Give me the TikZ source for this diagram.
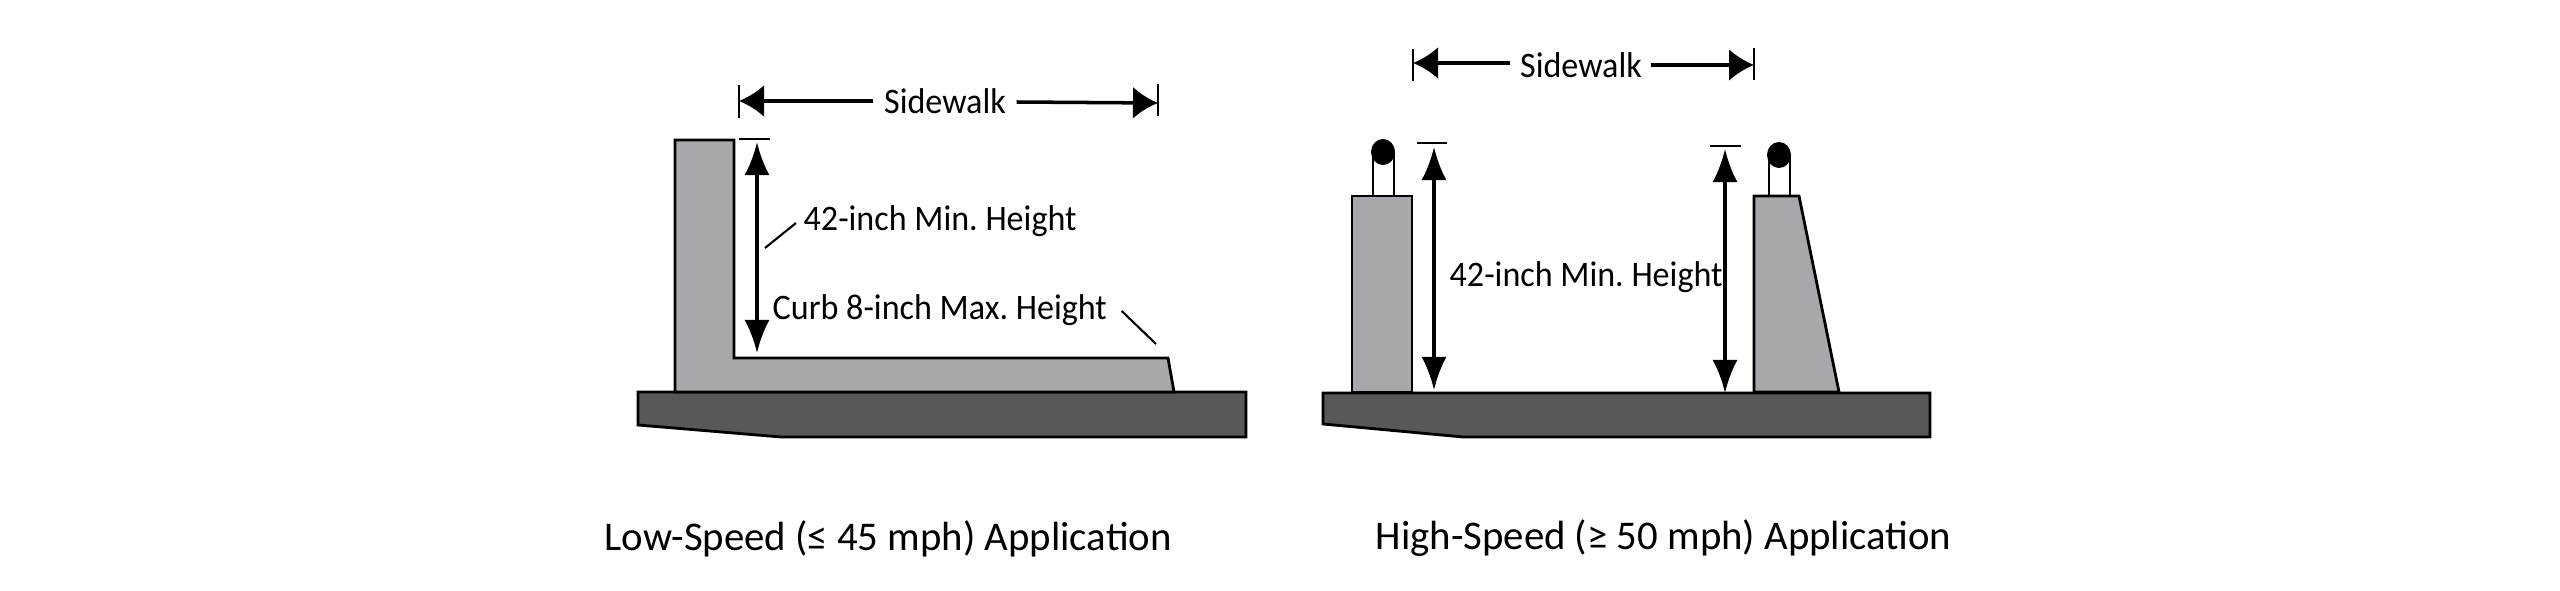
\documentclass[tikz,border=0pt]{standalone}
\usepackage{fontspec}
\setmainfont{Carlito}
\newfontfamily\dimfont[FakeStretch=0.95]{Carlito}
\usetikzlibrary{arrows.meta}

\definecolor{slabgray}{HTML}{58585A}
\definecolor{curbgray}{HTML}{A7A8AB}

\tikzset{
    slab/.style={draw=black,fill=slabgray,line width=0.8pt},
    curb/.style={draw=black,fill=curbgray,line width=0.8pt},
    tick/.style={draw=black,line width=0.6pt},
    leader/.style={draw=black,line width=0.6pt},
    walkdim/.style={draw=black,line width=1pt,-{Latex[length=2.5mm,width=3.2mm]}},
    heightdim/.style={draw=black,line width=1pt,{Latex[length=3.3mm,width=2.5mm]}-{Latex[length=3.3mm,width=2.5mm]}},
    dimlabel/.style={font=\dimfont\fontsize{10.2}{12}\selectfont\frenchspacing,inner sep=0pt},
    caption/.style={font=\fontsize{11.6}{14}\selectfont,inner sep=0pt}
}

\begin{document}
\begin{tikzpicture}[x=0.01cm,y=-0.01cm]
\useasboundingbox (0,0) rectangle (2560,591);

% Low-speed: slab and curb
\draw[slab] (638,392) -- (1246,392) -- (1246,437) -- (781,437) -- (638,425) -- cycle;
\draw[curb] (675,392) -- (675,140) -- (734,140) -- (734,358) -- (1168,358) -- (1174,392) -- cycle;

% Low-speed: sidewalk dimension
\node[dimlabel] (walkA) at (945,101) {Sidewalk};
\coordinate (walkAl) at (739,101);
\coordinate (walkAr) at (1158,103);
\draw[walkdim] (walkA.west) ++(-10,0) -- (walkAl);
\draw[walkdim] (walkA.east) ++(10,1) -- (walkAr);
\draw[tick] (739,85) -- (739,118);
\draw[tick] (1158,84) -- (1158,116);

% Low-speed: height dimension
\coordinate (topA) at (757,142);
\coordinate (botA) at (757,353);
\draw[tick] (739,139) -- (770,139);
\draw[heightdim] (topA) -- (botA);

% Low-speed: labels and leaders
\node[dimlabel,anchor=west] (minA) at (803,221) {42-inch Min. Height};
\node[dimlabel,anchor=west] (maxA) at (772,310) {Curb 8-inch Max. Height};
\coordinate (minAend) at (765,248);
\coordinate (maxAend) at (1156,344);
\draw[leader] (minA.west) ++(-7,2) -- (minAend);
\draw[leader] (maxA.east) ++(14,1) -- (maxAend);

% High-speed: slab
\draw[slab] (1323,393) -- (1930,393) -- (1930,437) -- (1463,437) -- (1323,424) -- cycle;

% High-speed: rails
\draw[line width=0.8pt,fill=white] (1373,196) rectangle (1394,152);
\draw[line width=0.8pt,fill=white] (1769,196) rectangle (1790,155);
\fill (1383,152) ellipse (12 and 13);
\fill (1779,155) ellipse (12 and 13);

% High-speed: barriers
\draw[curb] (1352,392) -- (1352,196) -- (1412,196) -- (1412,392) -- cycle;
\draw[curb] (1754,392) -- (1754,196) -- (1799,196) -- (1839,392) -- cycle;

% High-speed: sidewalk dimension
\node[dimlabel] (walkB) at (1581,65) {Sidewalk};
\coordinate (walkBl) at (1413,63);
\coordinate (walkBr) at (1754,65);
\draw[walkdim] (walkB.west) ++(-9,-2) -- (walkBl);
\draw[walkdim] (walkB.east) ++(8,0) -- (walkBr);
\draw[tick] (1413,49) -- (1413,81);
\draw[tick] (1754,48) -- (1754,80);

% High-speed: height dimensions
\coordinate (topB) at (1434,147);
\coordinate (botB) at (1434,390);
\coordinate (topC) at (1725,149);
\coordinate (botC) at (1725,393);
\draw[tick] (1417,143) -- (1447,143);
\draw[tick] (1710,146) -- (1741,146);
\draw[heightdim] (topB) -- (botB);
\draw[heightdim] (topC) -- (botC);
\node[dimlabel,anchor=west] (minB) at (1449,277) {42-inch Min. Height};

% Captions
\node[caption,anchor=west] (lowcap) at (604,539) {Low-Speed (≤ 45 mph) Application};
\node[caption,anchor=west] (highcap) at (1375,538) {High-Speed (≥ 50 mph) Application};

\end{tikzpicture}
\end{document}
